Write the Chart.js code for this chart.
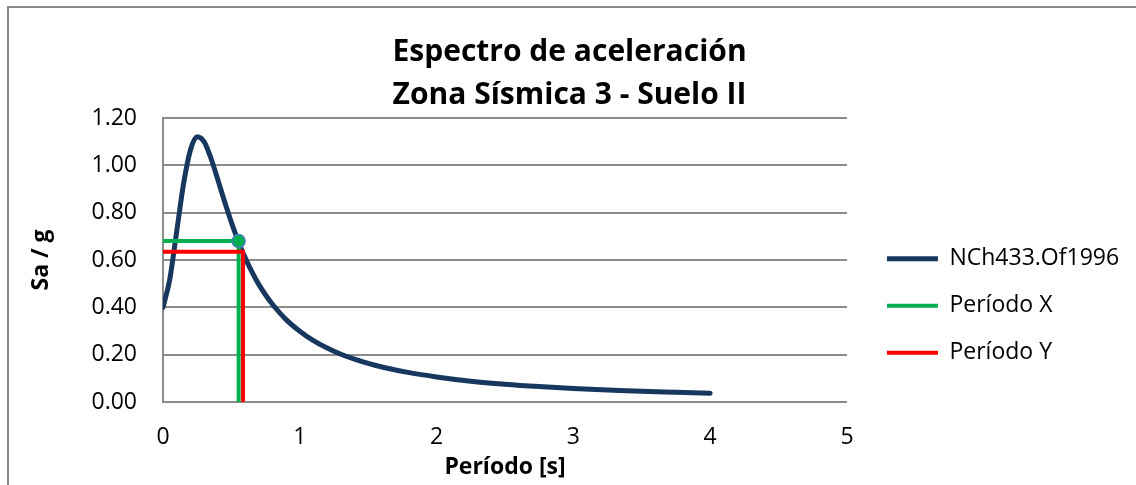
<!DOCTYPE html>
<html>
<head>
<meta charset="utf-8">
<script src="https://cdn.jsdelivr.net/npm/chart.js@4.4.1/dist/chart.umd.min.js"></script>
<style>
  html, body { margin: 0; padding: 0; background: #fff; }
</style>
</head>
<body>
<canvas id="chart" width="1136" height="485"></canvas>
<script>
// Espectro de aceleración NCh433.Of1996 — zona 3, suelo II
const periods = [0, 0.05, 0.1, 0.15, 0.2, 0.25, 0.3, 0.35, 0.4, 0.45, 0.5, 0.55, 0.6, 0.65, 0.7, 0.75, 0.8, 0.9, 1.0, 1.1, 1.2, 1.3, 1.4, 1.5, 1.6, 1.8, 2.0, 2.25, 2.5, 2.75, 3.0, 3.25, 3.5, 3.75, 4.0];
const saValues = [0.400, 0.520, 0.720, 0.921, 1.064, 1.121, 1.100, 1.031, 0.941, 0.847, 0.759, 0.680, 0.610, 0.550, 0.497, 0.452, 0.413, 0.348, 0.299, 0.259, 0.228, 0.202, 0.181, 0.163, 0.148, 0.124, 0.106, 0.088, 0.075, 0.065, 0.057, 0.051, 0.045, 0.041, 0.037];

const periodX = 0.553, saX = 0.680;
const periodY = 0.585, saY = 0.635;

const xTicks = [0, 1, 2, 3, 4, 5];
const yTicks = [0, 0.2, 0.4, 0.6, 0.8, 1.0, 1.2];

const seriesNames = ["NCh433.Of1996", "Período X", "Período Y"];

const GRID = "#8c8c8c";

// marco exterior del gráfico
const framePlugin = {
	id: "frame",
	beforeDraw(chart) {
		const ctx = chart.ctx;
		ctx.save();
		ctx.strokeStyle = "#8a8a8a";
		ctx.lineWidth = 2;
		ctx.strokeRect(8, 7, 2000, 2000);
		ctx.restore();
	},
};

const cornerLine = (px, py) => [
	{ x: 0, y: py },
	{ x: px, y: py },
	{ x: px, y: 0 },
];

Chart.defaults.font.family = "'Open Sans', sans-serif";
Chart.defaults.color = "#000";

new Chart(document.getElementById("chart"), {
	type: "line",
	data: {
		datasets: [
			{
				label: seriesNames[0],
				data: periods.map((t, i) => ({ x: t, y: saValues[i] })),
				borderColor: "#17375e",
				backgroundColor: "#17375e",
				borderWidth: 5,
				borderCapStyle: "round",
				pointRadius: 0,
				cubicInterpolationMode: "monotone",
				order: 3,
			},
			{
				label: seriesNames[1],
				data: cornerLine(periodX, saX),
				borderColor: "#00b050",
				backgroundColor: "#00b050",
				borderWidth: 4,
				pointRadius: [0, 6.5, 0],
				pointBackgroundColor: "#00b050",
				pointBorderColor: "#4a7ebb",
				pointBorderWidth: 1.5,
				tension: 0,
				order: 2,
			},
			{
				label: seriesNames[2],
				data: cornerLine(periodY, saY),
				borderColor: "#ff0000",
				backgroundColor: "#ff0000",
				borderWidth: 4,
				pointRadius: 0,
				tension: 0,
				order: 1,
			},
		],
	},
	options: {
		responsive: false,
		animation: false,
		devicePixelRatio: 1,
		layout: { padding: { left: 10, top: 0, bottom: 0, right: 6.9 } },
		plugins: {
			title: {
				display: true,
				text: ["Espectro de aceleración", "Zona Sísmica 3 - Suelo II"],
				font: { size: 30, weight: "bold", lineHeight: 1.43 },
				padding: { top: 31, bottom: 1.2 },
			},
			legend: {
				position: "right",
				align: "start",
				fullSize: false,
				maxWidth: 320,
				title: { display: true, text: "", font: { size: 1 }, padding: { top: 104, bottom: 0 } },
				labels: {
					boxWidth: 51,
					boxHeight: 0,
					padding: 24,
					font: { size: 23 },
					sort: (a, b) => a.datasetIndex - b.datasetIndex,
				},
			},
			tooltip: { enabled: false },
		},
		scales: {
			x: {
				type: "linear",
				min: xTicks[0],
				max: xTicks[xTicks.length - 1],
				afterBuildTicks: (s) => { s.ticks = xTicks.map((v) => ({ value: v })); },
				grid: { display: false, drawTicks: false },
				border: { display: true, color: GRID, width: 2 },
				ticks: { padding: 22, font: { size: 23 }, callback: (v) => String(v) },
				title: { display: true, text: "Período [s]", font: { size: 23, weight: "bold" }, padding: { top: 4, bottom: 4 } },
				afterFit: (s) => { s.height = 83; },
			},
			y: {
				min: yTicks[0],
				max: yTicks[yTicks.length - 1],
				afterBuildTicks: (s) => { s.ticks = yTicks.map((v) => ({ value: v })); },
				grid: { color: GRID, lineWidth: 2, drawTicks: false },
				border: { display: true, color: GRID, width: 2 },
				ticks: { padding: 26, font: { size: 23 }, callback: (v) => Number(v).toFixed(2) },
				title: { display: true, text: "Sa / g", font: { size: 23, weight: "bold" }, padding: { top: 18, bottom: 18 } },
				afterFit: (s) => { s.width = 153; },
			},
			y2: {
				position: "right",
				display: true,
				grid: { display: false, drawTicks: false },
				border: { display: false },
				ticks: { display: false },
				afterFit: (s) => { s.width = 16; },
			},
		},
	},
	plugins: [framePlugin],
});
</script>
</body>
</html>
